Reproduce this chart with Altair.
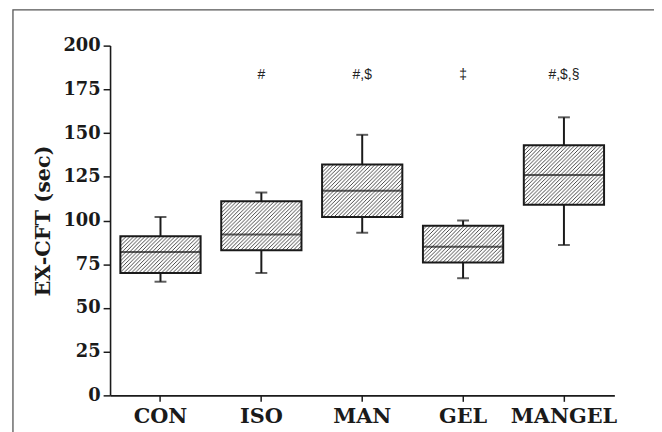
import altair as alt
import pandas as pd

groups = ["CON", "ISO", "MAN", "GEL", "MANGEL"]
whisker_low = [65, 70, 93, 67, 86]
q1 = [70, 83, 102, 76, 109]
median = [82, 92, 117, 85, 126]
q3 = [91, 111, 132, 97, 143]
whisker_high = [102, 116, 149, 100, 159]
annotations = ["", "#", "#,$", "‡", "#,$,§"]
annotation_y = [183, 183, 183, 183, 183]
y_ticks = [0, 12.5, 25, 37.5, 50, 62.5, 75, 87.5, 100, 112.5, 125, 137.5,
           150, 162.5, 175, 187.5, 200]

df = pd.DataFrame({
    "group": groups, "low": whisker_low, "q1": q1, "median": median,
    "q3": q3, "high": whisker_high, "annot": annotations, "ay": annotation_y,
})

SERIF = "DejaVu Serif"
INK = "#1a1a1a"

x_enc = alt.X(
    "group:N", sort=groups, title=None,
    scale=alt.Scale(paddingInner=0.2, paddingOuter=0.1),
    axis=alt.Axis(labelAngle=0, labelFont=SERIF, labelFontWeight="bold",
                  labelFontSize=21, labelColor=INK, labelPadding=4,
                  tickSize=6, tickWidth=1.5, tickColor=INK,
                  domainColor=INK, domainWidth=1.6),
)
y_scale = alt.Scale(domain=[0, 200], nice=False)
y_axis = alt.Axis(
    values=y_ticks, title="EX-CFT (sec)",
    labelExpr="datum.value % 25 == 0 ? datum.label : ''",
    labelOverlap=False, labelFont=SERIF, labelFontWeight="bold",
    labelFontSize=18, labelColor=INK, labelPadding=3,
    tickSize={"condition": {"test": "datum.value % 25 != 0", "value": 3.5}, "value": 7},
    tickWidth=1.5, tickColor=INK, domainColor=INK, domainWidth=1.6,
    titleFont=SERIF, titleFontWeight="bold", titleFontSize=21,
    titleColor=INK, titlePadding=10, grid=False,
)

base = alt.Chart(df)

whisker = base.mark_rule(color=INK, strokeWidth=2).encode(
    x=x_enc, y=alt.Y("low:Q", scale=y_scale, axis=y_axis), y2="high:Q")
cap_low = base.mark_tick(color=INK, size=12, thickness=2).encode(
    x=x_enc, y="low:Q")
cap_high = base.mark_tick(color=INK, size=12, thickness=2).encode(
    x=x_enc, y="high:Q")
box = base.mark_bar(size=81, fill="url(#hatch)", stroke=INK,
                    strokeWidth=2).encode(x=x_enc, y="q1:Q", y2="q3:Q")
med = base.mark_tick(color=INK, size=81, thickness=2).encode(
    x=x_enc, y="median:Q")
text = base.mark_text(font="Liberation Sans", fontSize=14, color="#222",
                      baseline="middle").encode(
    x=x_enc, y="ay:Q", text="annot:N")

frame = alt.Chart(alt.Data(values=[{"f": 0}])).mark_rect(
    filled=False, stroke="#555", strokeWidth=1.3).encode(
    x=alt.value(-98), x2=alt.value(700), y=alt.value(-36), y2=alt.value(600))

chart = alt.layer(whisker, cap_low, cap_high, box, med, text, frame).properties(
    width=509, height=353,
    autosize=alt.AutoSizeParams(type="none"),
    padding={"left": 103, "top": 36, "right": 40, "bottom": 36},
).configure_view(strokeWidth=0)

DEFS = (
    '<style>body{overflow:hidden}</style>'
    '<svg width="0" height="0" style="position:absolute;left:0;top:0" aria-hidden="true">'
    '<defs><pattern id="hatch" patternUnits="userSpaceOnUse" width="3.8" height="3.8">'
    '<rect width="3.8" height="3.8" fill="white"/>'
    '<path d="M-1,1 L1,-1 M0,3.8 L3.8,0 M2.8,4.8 L4.8,2.8" stroke="#333" stroke-width="0.9"/>'
    '</pattern></defs></svg>'
)


class HatchTemplate:
    def render(self, **kw):
        from altair.utils.html import TEMPLATES
        html = TEMPLATES["standard"].render(**kw)
        return html.replace("<body>", "<body>" + DEFS, 1)


try:
    chart.save("out.html", embed_options={"renderer": "svg", "actions": False},
               template=HatchTemplate())
except Exception:
    chart.save("out.html", embed_options={"renderer": "svg", "actions": False})
